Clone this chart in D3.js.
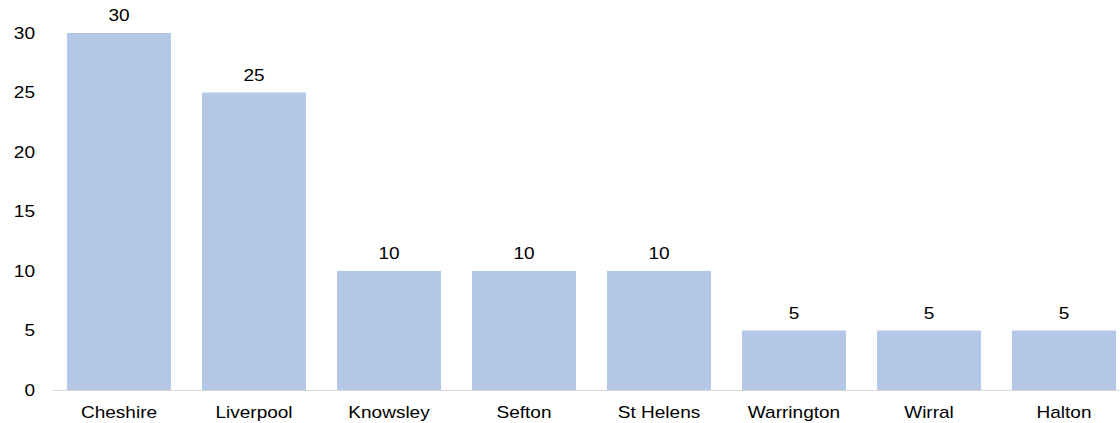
<!DOCTYPE html>
<html>
<meta charset="utf-8">
<script src="https://d3js.org/d3.v7.min.js"></script>
<style>
  body { margin: 0; background: #fff; }
  text { font-family: "Liberation Sans", Arial, sans-serif; fill: #000; }
</style>
<body>
<div id="chart"></div>
<script>
const categories = ["Cheshire", "Liverpool", "Knowsley", "Sefton", "St Helens", "Warrington", "Wirral", "Halton"];
const values = [30, 25, 10, 10, 10, 5, 5, 5];
const yTicks = [0, 5, 10, 15, 20, 25, 30];

const width = 1120;
const height = 423;

const xScale = d3.scaleBand()
  .domain(categories)
  .range([51.5, 1131.5])
  .paddingInner(0.23)
  .paddingOuter(0.115);

const yScale = d3.scaleLinear()
  .domain([0, 30])
  .range([390, 33]);

const svg = d3.select('#chart')
  .append('svg')
  .attr('width', width)
  .attr('height', height);

// y tick labels
svg.append('g')
  .selectAll('text')
  .data(yTicks)
  .enter()
  .append('text')
  .attr('x', 35)
  .attr('y', d => yScale(d))
  .attr('dy', '0.35em')
  .attr('text-anchor', 'end')
  .attr('font-size', 17)
  .attr('transform', d => `translate(35,0) scale(1.12,1) translate(-35,0)`)
  .text(d => d);

// bars
svg.selectAll('.bar')
  .data(values)
  .enter()
  .append('rect')
  .attr('class', 'bar')
  .attr('fill', '#b4c7e7')
  .attr('x', (d, i) => xScale(categories[i]))
  .attr('width', xScale.bandwidth())
  .attr('y', d => yScale(d))
  .attr('height', d => yScale(0) - yScale(d));

// baseline
svg.append('line')
  .attr('x1', 52)
  .attr('x2', width)
  .attr('y1', yScale(0) + 0.5)
  .attr('y2', yScale(0) + 0.5)
  .attr('stroke', '#d9d9d9')
  .attr('stroke-width', 1);

// value labels
svg.selectAll('.val')
  .data(values)
  .enter()
  .append('text')
  .attr('class', 'val')
  .attr('text-anchor', 'middle')
  .attr('font-size', 17)
  .attr('transform', (d, i) => {
    const cx = xScale(categories[i]) + xScale.bandwidth() / 2;
    return `translate(${cx},${yScale(d) - 12}) scale(1.12,1)`;
  })
  .text(d => d);

// category labels
svg.selectAll('.cat')
  .data(categories)
  .enter()
  .append('text')
  .attr('class', 'cat')
  .attr('text-anchor', 'middle')
  .attr('font-size', 17)
  .attr('transform', d => `translate(${xScale(d) + xScale.bandwidth() / 2},418) scale(1.12,1)`)
  .text(d => d);
</script>
</body>
</html>
